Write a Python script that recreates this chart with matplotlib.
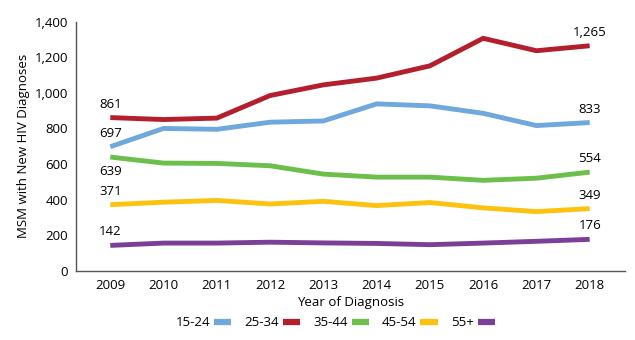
import matplotlib
matplotlib.use("Agg")
import matplotlib.pyplot as plt
from matplotlib.ticker import FuncFormatter

plt.rcParams['font.family'] = ['Open Sans', 'DejaVu Sans']

years = [2009, 2010, 2011, 2012, 2013, 2014, 2015, 2016, 2017, 2018]
age_15_24 = [697, 800, 795, 835, 842, 938, 927, 885, 816, 833]
age_25_34 = [861, 850, 858, 985, 1045, 1083, 1152, 1307, 1237, 1265]
age_35_44 = [639, 605, 603, 590, 543, 526, 526, 508, 520, 554]
age_45_54 = [371, 385, 395, 375, 390, 366, 383, 353, 332, 349]
age_55_up = [142, 155, 155, 160, 156, 153, 146, 155, 165, 176]

labels = ['15-24', '25-34', '35-44', '45-54', '55+']
series = [age_15_24, age_25_34, age_35_44, age_45_54, age_55_up]
colors = ['#6fa8dc', '#b41f2e', '#6cbf4a', '#fdc20f', '#7c3f98']

fig = plt.figure(figsize=(6.35, 3.4), dpi=100)
ax = fig.add_axes([0.12, 0.204, 0.864, 0.732])

for vals, lab, col in zip(series, labels, colors):
    ax.plot(years, vals, color=col, lw=3.5, label=lab, solid_capstyle='butt')

# value labels at first and last year
for vals in series:
    if vals is age_35_44:
        ax.annotate(f"{vals[0]:,}", (years[0], vals[0]), xytext=(0, -6),
                    textcoords='offset points', ha='center', va='top', fontsize=9.5)
    else:
        ax.annotate(f"{vals[0]:,}", (years[0], vals[0]), xytext=(0, 5),
                    textcoords='offset points', ha='center', va='bottom', fontsize=9.5)
    ax.annotate(f"{vals[-1]:,}", (years[-1], vals[-1]), xytext=(0, 5),
                textcoords='offset points', ha='center', va='bottom', fontsize=9.5)

ax.set_xlim(2008.36, 2018.66)
ax.set_ylim(0, 1400)
ax.set_xticks(years)
ax.set_yticks(range(0, 1401, 200))
ax.yaxis.set_major_formatter(FuncFormatter(lambda v, p: f"{int(v):,}"))
ax.tick_params(length=0, labelsize=9.5, pad=6)
for s in ['top', 'right']:
    ax.spines[s].set_visible(False)
for s in ['left', 'bottom']:
    ax.spines[s].set_color('#555555')
    ax.spines[s].set_linewidth(1)

ax.set_xlabel('Year of Diagnosis', fontsize=9.5, labelpad=3)
ax.set_ylabel('MSM with New HIV Diagnoses', fontsize=9.5, labelpad=3)

leg = fig.legend(loc='center', bbox_to_anchor=(0.528, 0.05), ncol=5, frameon=False,
                 markerfirst=False, handlelength=1.3, handletextpad=0.3,
                 columnspacing=1.0, fontsize=9.5)
for h in leg.get_lines():
    h.set_linewidth(4.5)

fig.savefig('out.png', dpi=100)
